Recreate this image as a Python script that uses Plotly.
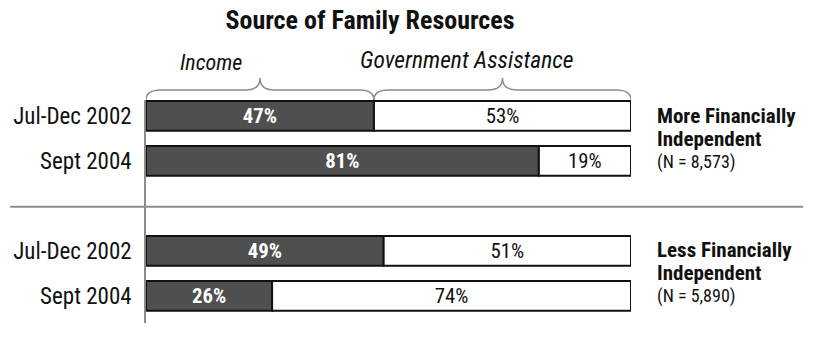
import plotly.graph_objects as go

# Share of family resources by source, per period and group
periods = ["Jul-Dec 2002", "Sept 2004", "Jul-Dec 2002", "Sept 2004"]
row_pos = [0, 1, 3, 4]
income = [47, 81, 49, 26]
assistance = [53, 19, 51, 74]
groups = [("More Financially", "Independent", "(N = 8,573)"),
          ("Less Financially", "Independent", "(N = 5,890)")]
group_rows = [0.52, 3.5]

FONT = "Roboto Condensed, Liberation Sans Narrow, Arial Narrow, sans-serif"
DARK = "#4f4f4f"
GRAY = "#8c8c8c"
INK = "#111111"

fig = go.Figure()
fig.add_trace(go.Bar(
    y=row_pos, x=income, orientation="h", base=0,
    marker=dict(color=DARK, line=dict(color=INK, width=2)),
    text=[f"{v}%" for v in income], textposition="inside",
    insidetextanchor="middle",
    textfont=dict(family=FONT, size=21, color="white", weight="bold"),
    width=0.66, hoverinfo="skip", cliponaxis=False,
))
fig.add_trace(go.Bar(
    y=row_pos, x=assistance, orientation="h", base=income,
    marker=dict(color="white", line=dict(color=INK, width=2)),
    text=[f"{v}%" for v in assistance], textposition="inside",
    insidetextanchor="middle",
    textfont=dict(family=FONT, size=21, color=INK),
    width=0.66, hoverinfo="skip", cliponaxis=False,
))

# Curly braces over the first bar, split at its income share
def brace(x0, x1, yb=1.0, ym=1.045, yp=1.099, d=3.0):
    xc = (x0 + x1) / 2
    return (f"M {x0},{yb} Q {x0},{ym} {x0 + d},{ym} L {xc - d},{ym} "
            f"Q {xc},{ym} {xc},{yp} Q {xc},{ym} {xc + d},{ym} "
            f"L {x1 - d},{ym} Q {x1},{ym} {x1},{yb}")

split = income[0]
total = income[0] + assistance[0]
for a, b in [(0, split), (split, total)]:
    fig.add_shape(type="path", path=brace(a, b), xref="x", yref="paper",
                  line=dict(color=GRAY, width=1.5))

fig.add_annotation(x=split / 2 - 10, y=1.17, xref="x", yref="paper",
                   yanchor="middle", text="<i>Income</i>", showarrow=False,
                   font=dict(family=FONT, size=22, color=INK))
fig.add_annotation(x=(split + total) / 2 - 7.3, y=1.179, xref="x", yref="paper",
                   yanchor="middle", text="<i>Government Assistance</i>",
                   showarrow=False, font=dict(family=FONT, size=23.5, color=INK))

# Divider between the two groups
fig.add_shape(type="line", x0=-0.28, x1=1.355, xref="paper",
              y0=2.02, y1=2.02, yref="y", line=dict(color=GRAY, width=2))

# Group labels on the right
for (l1, l2, n), gy in zip(groups, group_rows):
    fig.add_annotation(x=1.0495, xref="paper", y=gy - 0.51, yref="y",
                       text=f"<b>{l1}</b>", showarrow=False, xanchor="left",
                       font=dict(family=FONT, size=21, color=INK))
    fig.add_annotation(x=1.0495, xref="paper", y=gy, yref="y",
                       text=f"<b>{l2}</b>", showarrow=False, xanchor="left",
                       font=dict(family=FONT, size=21, color=INK))
    fig.add_annotation(x=1.0495, xref="paper", y=gy + 0.51, yref="y",
                       text=n, showarrow=False, xanchor="left",
                       font=dict(family=FONT, size=18, color=INK))

fig.update_layout(
    width=819, height=360,
    margin=dict(l=146, r=188, t=100, b=37),
    barmode="overlay", showlegend=False,
    plot_bgcolor="white", paper_bgcolor="white",
    title=dict(text="<b>Source of Family Resources</b>", x=0.4518, xanchor="center",
               y=0.944, yanchor="middle",
               font=dict(family=FONT, size=26, color=INK)),
    xaxis=dict(range=[0, 100], visible=False, fixedrange=True),
    yaxis=dict(range=[4.6, -0.35], tickvals=row_pos, ticktext=periods,
               showline=True, linecolor=GRAY, linewidth=1.5, showgrid=False,
               zeroline=False, ticks="", ticklabelstandoff=8,
               tickfont=dict(family=FONT, size=23, color=INK),
               fixedrange=True),
)

fig.write_html("out.html")
